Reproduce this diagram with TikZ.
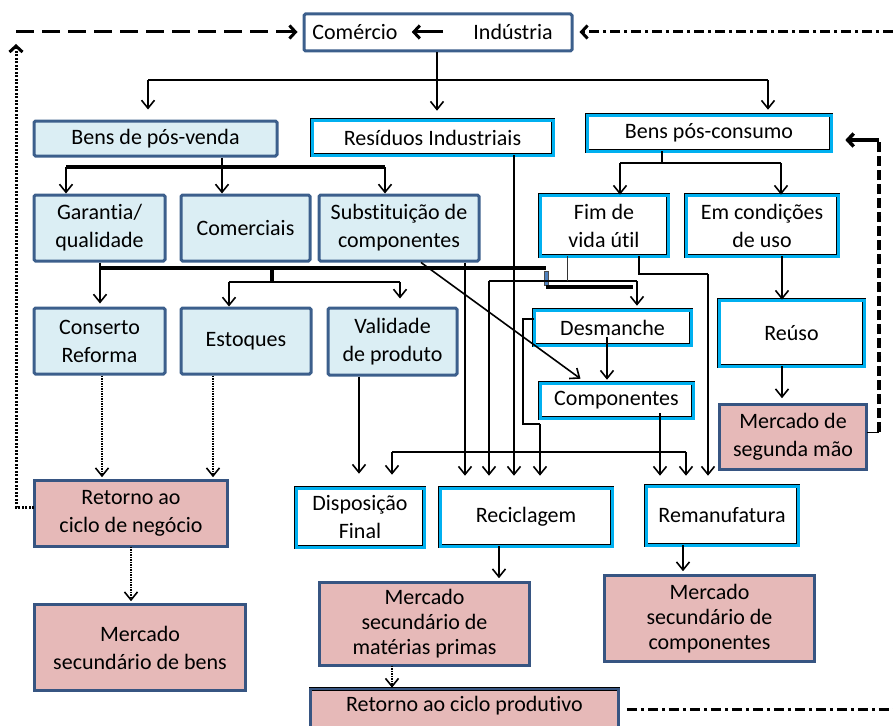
\documentclass[tikz,border=0pt]{standalone}
\usepackage{fontspec}
\setmainfont[Ligatures={NoCommon,NoContextual}]{Carlito}
\usetikzlibrary{arrows.meta,calc}
\definecolor{dblue}{RGB}{60,95,140}
\definecolor{lblue}{RGB}{219,238,244}
\definecolor{cyanb}{RGB}{0,176,240}
\definecolor{pinkf}{RGB}{230,185,184}
\definecolor{navy}{RGB}{55,85,130}
\definecolor{barblue}{RGB}{79,129,189}
\begin{document}
\begin{tikzpicture}[x=1pt,y=-1pt,
 every node/.style={font=\fontsize{22pt}{28pt}\selectfont, align=center, inner sep=2pt},
 three/.style={font=\fontsize{22pt}{25pt}\selectfont},
 lb/.style={draw=dblue, line width=3pt, fill=lblue, rounded corners=1.5pt},
 wb/.style={draw=dblue, line width=3pt, fill=white, rounded corners=1.5pt},
 cy/.style={draw=black, line width=0.6pt, double=cyanb, double distance=3pt, fill=white},
 pk/.style={draw=black, line width=0.6pt, double=navy, double distance=2.4pt, fill=pinkf},
 conn/.style={line width=1.6pt},
 thickline/.style={line width=3.2pt},
 arr/.style={conn, -{Straight Barb[length=8pt,width=13pt]}},
 darr/.style={line width=1.6pt, dash pattern=on 1.5pt off 1pt, -{Straight Barb[length=8pt,width=13pt]}},
 bigtip/.style={-{Straight Barb[length=6pt,width=13pt]}},
 dashdot/.style={line width=3pt, dash pattern=on 10pt off 4pt on 3pt off 4pt}
]
\useasboundingbox (0,0) rectangle (893,725);

% ---------- boxes ----------
\node[wb, minimum width=268pt, minimum height=37pt] (top) at (438,32.5) {};
\node (com) at (355,32) {Comércio};
\node (ind) at (513,32) {Indústria};

\node[lb, minimum width=243pt, minimum height=35pt] (bpv) at (155.5,138.5) {Bens de pós-venda};
\node[cy, minimum width=241pt, minimum height=35pt] (res) at (432.5,137.5) {Resíduos Industriais};
\node[cy, minimum width=244pt, minimum height=36pt] (bpc) at (709,133) {Bens pós-consumo};

\node[lb, minimum width=131pt, minimum height=66pt] (gar) at (99.5,228) {Garantia/\\qualidade};
\node[lb, minimum width=129pt, minimum height=66pt] (cms) at (245.5,228) {Comerciais};
\node[lb, minimum width=160pt, minimum height=66pt] (sub) at (399,228) {Substituição de\\componentes};
\node[cy, minimum width=128pt, minimum height=61pt] (fim) at (604,225.5) {Fim de\\vida útil};
\node[cy, minimum width=152pt, minimum height=61pt] (emc) at (762,225.5) {Em condições\\de uso};

\node[lb, minimum width=131pt, minimum height=66pt] (con) at (99.5,341) {Conserto\\Reforma};
\node[lb, minimum width=130pt, minimum height=66pt] (est) at (246,341) {Estoques};
\node[lb, minimum width=129pt, minimum height=67pt] (val) at (392.5,341.5) {Validade\\de produto};
\node[cy, minimum width=157pt, minimum height=35pt] (des) at (612.5,327.5) {Desmanche};
\node[cy, minimum width=153pt, minimum height=35pt] (cmp) at (616.5,400.5) {Componentes};
\node[cy, minimum width=145pt, minimum height=66pt] (reu) at (791.5,333) {Reúso};
\node[pk, minimum width=147pt, minimum height=65pt] (msm) at (793,437) {Mercado de\\segunda mão};

\node[pk, minimum width=193pt, minimum height=66pt] (rcn) at (131,513.5) {Retorno ao\\ciclo de negócio};
\node[cy, minimum width=128pt, minimum height=59pt] (dsp) at (360,517.5) {Disposição\\Final};
\node[cy, minimum width=172pt, minimum height=58pt] (rec) at (526,517) {Reciclagem};
\node[cy, minimum width=152pt, minimum height=59pt] (rem) at (722,515.5) {Remanufatura};

\node[pk, minimum width=211pt, minimum height=86pt] (msb) at (140,647.5) {Mercado\\secundário de bens};
\node[pk, three, minimum width=210pt, minimum height=83pt] (mmp) at (424.5,624) {Mercado\\secundário de\\matérias primas};
\node[pk, three, minimum width=210pt, minimum height=86pt] (msc) at (709.5,618.5) {Mercado\\secundário de\\componentes};
\node[pk, minimum width=308pt, minimum height=46pt] (rcp) at (464.5,712) {};
\node (rcpt) at (464.5,706) {Retorno ao ciclo produtivo};

% ---------- top box arrow ----------
\draw[line width=3pt, bigtip, shorten <=28pt, shorten >=12pt] (ind.west) -- (com.east);

% ---------- top distribution ----------
\coordinate (j1a) at (148,80); \coordinate (j1b) at (437,80); \coordinate (j1c) at (768,80);
\draw[conn] (top.south -| j1b) -- (j1b);
\draw[conn] (j1a) -- (j1c);
\draw[arr, shorten >=10pt] (j1a) -- (bpv.north -| j1a);
\draw[arr, shorten >=9pt] (j1b) -- (res.north -| j1b);
\draw[arr, shorten >=5pt] (j1c) -- (bpc.north -| j1c);

% ---------- pos-venda ----------
\coordinate (j2a) at (66,167); \coordinate (j2b) at (222,167); \coordinate (j2c) at (385,167);
\draw[conn] (bpv.south -| j2b) -- (j2b);
\draw[thickline] (j2a) -- (j2c);
\draw[arr] (j2a) -- (gar.north -| j2a);
\draw[arr] (j2b) -- (cms.north -| j2b);
\draw[arr] (j2c) -- (sub.north -| j2c);

% ---------- pos-consumo ----------
\coordinate (j3a) at (620,163); \coordinate (j3b) at (662,163); \coordinate (j3c) at (781,163);
\draw[conn] (bpc.south -| j3b) -- (j3b);
\draw[conn] (j3a) -- (j3c);
\draw[arr] (j3a) -- (fim.north -| j3a);
\draw[arr] (j3c) -- (emc.north -| j3c);

% ---------- second row outputs ----------
\coordinate (k1) at (100,268); \coordinate (k2) at (272,268); \coordinate (k3) at (546,268);
\draw[arr, shorten >=3pt] (gar.south -| k1) -- (con.north -| k1);
\draw[thickline] (k1) -- (k3);
\coordinate (k2b) at (272,282);
\draw[thickline] (k2) -- (k2b);
\coordinate (k2l) at (229,282); \coordinate (k2r) at (400,282);
\draw[conn] (k2l) -- (k2r);
\draw[arr] (k2l) -- (est.north -| k2l);
\draw[arr, shorten >=8pt] (k2r) -- (val.north -| k2r);

\draw[draw=black!70, line width=0.4pt, fill=barblue] (544,271) rectangle (548.5,285);
\coordinate (k6a) at (546,287); \coordinate (k6b) at (633,287);
\draw[thickline] (k6a) -- (k6b);
\coordinate (k4l) at (489,281); \coordinate (k4r) at (637,281);
\draw[conn] (k4l) -- (k4r);
\draw[arr, shorten >=4pt] (k4r) -- (des.north -| k4r);
\draw[arr, shorten >=12pt] (k4l) -- (rec.north -| k4l);
\coordinate (k5) at (567,281);
\draw[line width=1pt, black!80] (fim.south -| k5) -- (k5);

% fim -> remanufatura
\coordinate (f1) at (639,274); \coordinate (f2) at (708,274);
\draw[line width=1.2pt] (fim.south -| f1) -- (f1) -- (f2);
\draw[arr, shorten >=10pt] (f2) -- (rem.north -| f2);

% substituicao, residuos -> reciclagem ; validade -> disposicao
\coordinate (s1) at (465,0);
\draw[arr, shorten >=12pt] (sub.south -| s1) -- (rec.north -| s1);
\coordinate (r1) at (514,0);
\draw[arr, shorten >=12pt] (res.south -| r1) -- (rec.north -| r1);
\coordinate (v1) at (359,0);
\draw[arr, shorten >=14pt] (val.south -| v1) -- (dsp.north -| v1);

% horizontal bar to disposicao / remanufatura
\coordinate (h1) at (392,452); \coordinate (h2) at (686,452);
\draw[conn] (h1) -- (h2);
\draw[arr, shorten >=13pt] (h1) -- (dsp.north -| h1);
\draw[arr, shorten >=10pt] (h2) -- (rem.north -| h2);

% desmanche loop -> reciclagem
\coordinate (d1) at (523,319); \coordinate (d2) at (523,424); \coordinate (d3) at (540,424);
\draw[line width=2pt] (des.west |- d1) -- (d1) -- (d2) -- (d3);
\draw[arr, shorten >=12pt] (d3) -- (rec.north -| d3);

% desmanche -> componentes
\coordinate (d4) at (607,337);
\draw[arr, shorten >=3pt] (d4) -- (cmp.north -| d4);

% substituicao -> componentes
\draw[arr] ([xshift=22pt]sub.south) -- ([xshift=-36pt,yshift=4pt]cmp.north);

% componentes -> remanufatura
\coordinate (c1) at (660,413);
\draw[arr, shorten >=10pt] (c1) -- (rem.north -| c1);

% em condicoes -> reuso -> mercado de segunda mao
\coordinate (e1) at (782,0);
\draw[arr] (emc.south -| e1) -- (reu.north -| e1);
\draw[arr, shorten >=6pt] (reu.south -| e1) -- (msm.north -| e1);

% mercado de segunda mao -> bens pos-consumo
\coordinate (m1) at (879,432); \coordinate (m2) at (879,140);
\draw[line width=1pt] (msm.east |- m1) -- (m1);
\draw[line width=3.5pt, dash pattern=on 10pt off 4pt] (m1) -- (m2);
\draw[line width=3.5pt, bigtip, shorten >=14pt] (m2) -- (bpc.east |- m2);

% conserto / estoques -> retorno ao ciclo de negocio
\coordinate (o1) at (102,0); \coordinate (o2) at (213,0); \coordinate (o3) at (131,0);
\draw[darr, shorten >=3pt] (con.south -| o1) -- (rcn.north -| o1);
\draw[darr, shorten >=3pt] (est.south -| o2) -- (rcn.north -| o2);
\draw[darr, shorten >=3pt] (rcn.south -| o3) -- (msb.north -| o3);

% left loop
\coordinate (l1) at (16,507); \coordinate (l2) at (16,44); \coordinate (l3) at (16,32);
\draw[line width=3pt, dash pattern=on 2pt off 1.5pt, bigtip] (rcn.west |- l1) -- (l1) -- (l2);
\draw[line width=3pt, dash pattern=on 18pt off 8pt, bigtip, shorten >=5pt] (l3) -- (top.west |- l3);

% right dash-dot loops
\coordinate (t1) at (893,32);
\draw[dashdot, bigtip, shorten >=6pt] (t1) -- (top.east |- t1);
\coordinate (b1) at (893,709);
\draw[dashdot, shorten <=8pt] (rcp.east |- b1) -- (b1);

% bottom arrows
\coordinate (q1) at (499,0); \coordinate (q2) at (683,0); \coordinate (q3) at (392,0);
\draw[arr, shorten >=4pt] (rec.south -| q1) -- (mmp.north -| q1);
\draw[arr, shorten >=4pt] (rem.south -| q2) -- (msc.north -| q2);
\draw[darr, shorten >=1pt] (mmp.south -| q3) -- (rcp.north -| q3);
\end{tikzpicture}
\end{document}
